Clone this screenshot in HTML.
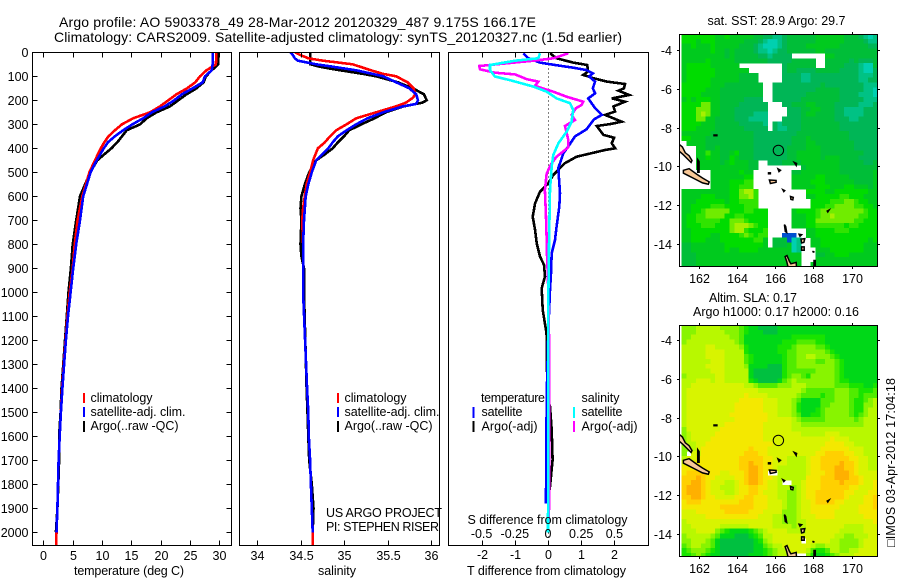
<!DOCTYPE html>
<html>
<head>
<meta charset="utf-8">
<title>Argo profile chart</title>
<style>
html,body{margin:0;padding:0;background:#fff;}
svg{display:block;}
text{font-family:"Liberation Sans",sans-serif;font-size:12.5px;fill:#000;}
.frame{fill:none;stroke:#000;stroke-width:1;shape-rendering:crispEdges;}
.tick{stroke:#000;stroke-width:1;shape-rendering:crispEdges;}
.line{fill:none;stroke-width:2.6;stroke-linejoin:miter;shape-rendering:crispEdges;}
</style>
</head>
<body>
<svg id="chart" xmlns="http://www.w3.org/2000/svg" width="900" height="580" viewBox="0 0 900 580">
<defs>
<clipPath id="clip-t"><rect x="32" y="52" width="200" height="494"/></clipPath>
<clipPath id="clip-s"><rect x="239" y="52" width="201" height="494"/></clipPath>
<clipPath id="clip-d"><rect x="448" y="52" width="201" height="494"/></clipPath>
<clipPath id="clip-m1"><rect x="679" y="34" width="199" height="233"/></clipPath>
<clipPath id="clip-m2"><rect x="679" y="325" width="199" height="232"/></clipPath>
</defs>
<rect x="0" y="0" width="900" height="580" fill="#fff"/>
<text x="59" y="27" style="font-size:14px" textLength="477">Argo profile: AO 5903378_49 28-Mar-2012 20120329_487 9.175S 166.17E</text>
<text x="54" y="42" style="font-size:14px" textLength="568">Climatology: CARS2009. Satellite-adjusted climatology: synTS_20120327.nc (1.5d earlier)</text>

<g id="g-t"></g>
<g id="g-s"></g>
<g id="g-d"></g>
<g id="g-m1"></g>
<g id="g-m2"></g>

<text x="74" y="575" textLength="110">temperature (deg C)</text>
<text x="318" y="575" textLength="38">salinity</text>
<text x="467" y="575" textLength="159">T difference from climatology</text>
<text x="467.5" y="524" textLength="160">S difference from climatology</text>

<g>
<rect x="83" y="393" width="2" height="10" fill="#f00"/>
<rect x="83" y="407" width="2" height="10" fill="#00f"/>
<rect x="83" y="421" width="2" height="11" fill="#000"/>
<text x="90.5" y="402" textLength="62">climatology</text>
<text x="90.5" y="416" textLength="95">satellite-adj. clim.</text>
<text x="90.5" y="430" textLength="88">Argo(..raw -QC)</text>
</g>
<g>
<rect x="337" y="393" width="2" height="10" fill="#f00"/>
<rect x="337" y="407" width="2" height="10" fill="#00f"/>
<rect x="337" y="421" width="2" height="11" fill="#000"/>
<text x="344.5" y="402" textLength="62">climatology</text>
<text x="344.5" y="416" textLength="95">satellite-adj. clim.</text>
<text x="344.5" y="430" textLength="88">Argo(..raw -QC)</text>
</g>
<text x="326" y="517" textLength="116">US ARGO PROJECT</text>
<text x="326" y="531" textLength="113">PI: STEPHEN RISER</text>

<g>
<text x="481" y="402" textLength="64">temperature</text>
<text x="581.5" y="402" textLength="38">salinity</text>
<rect x="472.5" y="407" width="2" height="11" fill="#00f"/>
<rect x="472.5" y="421" width="2" height="11" fill="#000"/>
<rect x="573" y="407" width="2" height="11" fill="#0ff"/>
<rect x="573" y="421" width="2" height="11" fill="#f0f"/>
<text x="481.5" y="416" textLength="41">satellite</text>
<text x="481.5" y="430.5" textLength="56">Argo(-adj)</text>
<text x="581.5" y="416" textLength="41">satellite</text>
<text x="581.5" y="430.5" textLength="56">Argo(-adj)</text>
</g>

<text x="707.5" y="25" textLength="138">sat. SST: 28.9 Argo: 29.7</text>
<text x="709" y="302" textLength="88">Altim. SLA: 0.17</text>
<text x="693" y="316" textLength="166">Argo h1000: 0.17 h2000: 0.16</text>
<text transform="translate(895,547) rotate(-90)" textLength="169">&#9633;IMOS 03-Apr-2012 17:04:18</text>
</svg>

<script>
// ---- profile axis ticks ----
const depthTicks = [0,100,200,300,400,500,600,700,800,900,1000,1100,1200,1300,1400,1500,1600,1700,1800,1900,2000];
const tempTicks = [0,5,10,15,20,25,30];
const salTicks = [34,34.5,35,35.5,36];
const tDiffTicks = [-2,-1,0,1,2];
const sDiffTicks = [-0.5,-0.25,0,0.25,0.5];
const lonTicks = [162,164,166,168,170];
const latTicks = [-4,-6,-8,-10,-12,-14];

// ---- temperature profiles ----
const tDepths = [0,50,75,100,125,150,175,200,225,250,275,300,325,350,375,400,450,500,600,700,800,900,1000,1100,1200,1300,1400,1500,1600,1700,1800,1900,2000,2055];
const tempClim = [29.5,29.4,27.8,26.7,25.9,24.5,22.7,21.3,19.9,18.2,15.3,13.4,12.2,11.1,10.4,9.8,8.8,7.85,6.65,5.85,5.35,5,4.5,4.1,3.8,3.5,3.2,3,2.8,2.6,2.5,2.4,2.25,2.2];
const tempSat = [28.85,28.85,28.7,27.55,27.15,25.45,23.6,22.3,20.7,18.5,17,15.2,13.6,12.2,11,10.3,9.1,8.05,6.8,6.25,5.6,5.1,4.65,4.2,3.85,3.55,3.25,3,2.8,2.6,2.5,2.4,2.25];
const tempArgo = [29.8,29.8,28.7,27.7,27.3,26.1,24.4,23,21.6,19.3,17.6,16.5,14.2,13.4,12.6,11.6,9.2,8,6.25,5.6,5,4.7,4.3,4,3.7,3.4,3.1,2.95,2.7,2.7,2.55,2.4,2.15];

// ---- salinity profiles ----
const sClimDepths = [0,10,25,35,50,75,90,100,125,150,175,190,210,225,250,275,300,325,350,375,400,450,500,550,600,650,700,800,1000,1400,1500,1600,1700,1800,1900,2000,2055];
const salClim = [34.435,34.49,34.59,34.76,35.1,35.31,35.45,35.6,35.73,35.8,35.82,35.79,35.71,35.6,35.37,35.14,35.03,34.91,34.84,34.78,34.7,34.645,34.61,34.57,34.55,34.53,34.52,34.53,34.53,34.576,34.59,34.595,34.61,34.62,34.63,34.64,34.64];
const sSatDepths = [0,15,25,35,50,60,75,90,100,125,150,175,200,215,225,250,275,300,325,350,375,400,450,500,550,600,700,800,1000,1400,1500,1600,1700,1800,1900,2000];
const salSat = [34.385,34.42,34.435,34.47,34.68,34.87,35.14,35.33,35.45,35.6,35.75,35.83,35.85,35.83,35.68,35.45,35.27,35.14,35.03,34.93,34.87,34.82,34.68,34.63,34.59,34.56,34.54,34.53,34.53,34.576,34.59,34.595,34.61,34.62,34.63,34.64];
const sArgoDepths = [0,50,60,70,90,100,125,150,175,200,210,225,250,275,300,325,350,375,400,425,450,500,550,600,650,700,800,850,900,1000,1400,1500,1600,1700,1800,1900,2000];
const salArgo = [34.61,34.615,34.72,34.87,35.22,35.37,35.62,35.79,35.92,35.95,35.9,35.69,35.48,35.35,35.2,35.06,35,34.93,34.87,34.78,34.68,34.6,34.55,34.51,34.5,34.51,34.5,34.51,34.54,34.54,34.57,34.58,34.59,34.6,34.63,34.65,34.64];

// ---- difference profiles (T on lower axis, S on upper axis) ----
const dTArgoDepths = [4,25,43,53,80,94,108,122,132,150,160,178,192,206,226,247,261,289,299,307,344,356,379,400,407,435,462,497,511,546,581,629,685,740,796,851,886,934,983,1073,1157,1184,1434,1476,1573,1698,1810,1851,1990];
const dTArgo = [0.06,0.26,0.76,1.18,1.21,1.06,1.37,1.77,2.32,2.29,2.12,2.45,1.92,2.32,1.97,2.02,1.72,2.22,1.87,1.47,1.67,1.99,1.92,2.02,1.72,0.86,0.51,0.26,0.16,0.01,-0.24,-0.39,-0.46,-0.39,-0.34,-0.24,-0.12,-0.09,-0.19,-0.16,-0.06,-0.04,-0.02,0.06,0.11,0.14,0.06,0.01,0];
const dTSatDepths = [4,25,43,53,64,74,88,101,122,150,171,192,233,261,279,321,351,393,421,483,587,643,726,782,837,920,990,1157,1434,1851,1879];
const dTSat = [-0.74,-0.59,-0.24,0.21,0.76,1.16,1.35,1.24,1.42,1.35,1.42,1.21,1.42,1.62,1.39,1.16,0.81,0.61,0.46,0.31,0.36,0.34,0.26,0.21,0.11,0.09,0.06,0.01,-0.04,-0.06,-0.06];
const dSArgoDepths = [4,25,35,57,71,85,92,112,122,140,164,185,206,219,233,261,282,307,365,396,435,462,504,574,685,782,810,948,1254,1351,1573,1893,2000];
const dSArgo = [0.153,0.04,-0.11,-0.517,-0.512,-0.4,-0.248,-0.16,-0.073,-0.098,0.04,0.14,0.266,0.254,0.21,0.178,0.203,0.128,0.153,0.153,0.065,0.028,-0.01,-0.023,-0.015,-0.01,-0.01,0,0.01,0.01,0.008,0.008,0];
const dSSatDepths = [4,25,35,53,74,101,118,143,164,192,212,240,289,331,379,428,476,574,782,1000,1500,2000];
const dSSat = [-0.06,-0.073,-0.248,-0.437,-0.437,-0.4,-0.274,-0.11,-0.01,0.065,0.166,0.19,0.178,0.14,0.078,0.04,0.028,0.015,0.008,0.003,0.003,0];

// ---- map grids (colour level per 0.25 degree cell, _ = no data) ----
const _ = null;
const sstLevels = [
[6,6,6,6,6,6,6,5,5,6,5,5,5,5,5,4,4,3,3,2,2,3,4,4,4,4,4,4,5,5,5,5,5,5,4,4,4,3,2,1,2],
[6,6,6,5,6,6,6,5,5,5,5,5,5,4,4,4,3,2,1,1,2,3,4,4,4,4,4,4,5,5,5,5,5,5,4,4,4,4,3,2,2],
[5,5,6,5,5,5,6,5,5,5,5,5,4,4,4,3,2,1,1,1,2,3,4,4,4,4,5,5,5,5,5,5,5,4,4,4,4,4,4,3,3],
[5,5,5,5,5,5,6,5,5,4,5,4,4,4,4,3,2,2,1,2,3,3,4,4,4,4,4,4,5,5,4,4,4,4,4,4,4,4,4,4,4],
[5,5,5,5,5,5,5,5,5,4,5,4,4,4,4,4,3,3,2,3,3,3,3,_,_,_,_,_,_,_,5,5,4,4,4,4,4,4,4,4,4],
[5,5,5,5,5,6,5,5,5,5,5,4,4,4,4,4,4,4,3,3,3,3,3,4,4,4,4,4,_,_,4,4,4,4,4,3,4,3,3,3,4],
[5,6,6,6,6,6,5,5,5,5,5,5,_,_,_,_,_,_,_,_,_,3,4,4,4,4,4,4,_,_,4,4,4,4,3,3,3,2,1,1,4],
[5,6,6,6,6,6,6,5,5,5,5,5,5,5,_,_,_,_,_,_,_,3,4,4,3,3,3,3,4,4,4,4,4,3,3,3,3,2,1,1,3],
[5,6,6,6,6,6,6,5,5,5,5,5,4,4,4,4,_,_,_,_,_,3,3,3,3,2,2,3,3,3,3,3,3,3,3,3,3,2,2,2,3],
[5,6,6,6,6,6,5,5,5,5,5,5,4,4,4,4,_,_,_,_,_,3,3,3,3,2,2,3,3,3,3,3,3,3,3,3,3,2,2,3,3],
[6,6,6,6,6,6,5,5,5,4,4,4,4,4,4,4,4,_,_,3,3,3,3,3,3,3,3,3,3,4,3,3,3,3,3,3,3,3,2,2,2],
[6,6,6,6,6,5,5,5,4,4,4,4,4,4,4,4,4,_,_,3,3,3,3,3,3,3,3,3,4,4,4,4,4,3,3,3,3,3,2,2,1],
[6,6,6,6,5,5,5,5,4,4,4,4,4,4,4,4,4,_,_,3,3,3,3,3,3,3,4,4,4,4,4,4,4,3,3,3,3,2,2,2,1],
[5,6,5,6,6,6,5,5,4,4,4,4,4,3,3,3,3,_,_,3,3,3,3,3,3,4,4,4,4,4,4,4,4,3,3,3,3,3,2,2,2],
[6,6,6,6,8,8,5,5,4,4,4,4,3,3,3,3,3,3,_,_,_,3,3,4,4,4,5,5,4,4,4,4,3,3,3,3,3,2,2,2,3],
[6,6,6,8,8,8,5,5,4,4,4,3,3,3,3,3,3,3,_,_,_,_,3,3,3,4,4,5,5,4,4,4,3,3,2,2,2,2,3,3,3],
[6,6,6,8,9,8,5,5,4,4,4,3,3,3,3,2,2,2,_,_,_,_,3,3,3,4,5,5,4,4,4,4,3,3,2,2,2,2,3,3,3],
[6,6,6,8,8,5,5,4,4,4,4,3,3,3,2,2,2,2,_,_,_,3,3,3,3,4,4,4,4,4,4,4,3,3,3,2,2,3,3,3,3],
[6,6,6,6,5,5,5,4,4,4,4,4,3,3,3,3,3,2,_,3,2,3,3,3,3,4,4,4,4,4,4,4,4,3,3,3,3,3,3,3,3],
[6,6,6,5,5,5,5,4,4,4,4,4,4,3,3,3,3,3,_,3,2,2,3,3,3,4,4,4,4,4,4,4,4,3,3,3,3,3,3,3,3],
[5,5,5,5,5,5,4,4,4,4,4,4,4,4,4,3,3,3,3,3,3,3,3,3,4,4,4,4,4,4,4,4,4,4,4,3,3,3,3,3,3],
[6,6,5,5,5,4,4,4,4,4,4,4,4,4,4,3,3,3,3,3,3,3,3,4,4,4,5,4,4,4,4,4,4,4,4,3,3,3,3,3,3],
[_,5,5,5,5,4,4,4,4,4,4,4,4,4,4,3,3,3,3,3,3,3,3,4,4,4,5,5,4,4,4,4,4,4,4,4,3,3,3,3,3],
[_,_,_,5,5,4,4,5,4,4,4,4,4,4,4,3,3,3,3,3,3,3,4,4,4,4,5,5,5,4,4,4,4,4,4,4,3,3,3,3,3],
[_,_,_,5,5,7,5,5,4,4,5,6,4,4,4,3,3,3,3,3,3,3,4,4,5,5,5,5,5,4,4,4,4,4,4,4,4,4,3,3,3],
[_,_,_,5,5,6,5,5,4,4,6,5,4,4,4,3,3,3,3,3,3,3,4,4,5,5,5,5,5,4,5,5,5,4,4,4,4,3,3,3,3],
[_,_,_,5,5,5,5,5,4,5,6,5,5,5,4,4,_,_,3,3,3,4,4,4,4,5,5,5,5,5,5,5,5,4,4,4,4,4,3,3,4],
[_,_,_,5,5,5,5,5,5,5,5,5,5,5,4,4,_,_,_,_,_,_,_,_,_,4,5,5,5,5,5,5,5,4,4,4,4,4,4,4,4],
[_,_,_,_,_,_,5,5,5,5,5,5,6,5,5,_,_,_,_,_,_,_,_,4,4,5,5,5,5,5,5,5,5,4,4,4,4,4,4,4,5],
[_,_,_,_,_,_,5,5,5,5,5,5,5,6,6,_,_,_,_,_,_,_,_,5,5,5,5,5,6,6,5,5,5,5,5,4,4,4,4,4,5],
[_,_,_,_,_,_,5,5,5,5,6,6,6,7,7,_,_,_,_,_,_,_,_,5,5,5,5,6,6,6,5,5,5,5,5,5,4,4,4,4,5],
[_,_,_,_,_,_,5,5,5,5,6,6,7,7,7,_,_,_,_,_,_,_,_,5,5,5,5,5,6,6,6,5,5,5,6,6,5,5,5,4,5],
[5,5,5,5,5,5,5,5,5,5,6,6,8,9,9,7,_,_,_,_,_,_,_,_,_,_,6,6,6,6,5,5,6,6,6,6,6,6,6,5,5],
[5,5,5,5,6,6,6,5,5,5,6,6,8,8,9,7,_,_,_,_,_,_,_,_,_,_,5,5,6,6,6,6,6,7,7,6,6,6,5,5,5],
[5,5,5,6,6,6,6,6,6,5,6,6,7,7,7,7,_,_,_,_,_,_,_,_,_,_,_,6,6,6,6,7,7,7,8,8,7,6,6,5,5],
[5,5,6,6,6,6,7,7,7,6,6,6,6,7,7,7,_,_,_,_,_,_,_,_,_,_,_,6,6,6,7,7,8,8,8,8,7,7,6,6,5],
[5,5,6,6,7,8,8,8,8,8,6,6,6,7,7,6,6,6,_,_,_,_,_,5,6,6,6,6,7,8,8,8,8,8,8,8,8,8,7,6,6],
[5,6,6,7,7,8,8,8,8,6,6,7,7,6,6,6,6,6,_,_,_,_,_,5,5,5,6,6,7,8,8,9,8,8,8,8,8,7,7,6,6],
[5,6,6,7,7,7,7,7,6,6,8,8,8,7,6,6,6,6,_,_,_,_,_,5,5,5,6,6,8,8,8,8,8,8,8,8,7,7,6,6,6],
[5,6,6,6,7,7,7,6,6,6,8,9,9,9,8,7,6,6,_,_,_,_,_,5,5,5,6,6,7,7,7,7,7,7,6,7,7,6,6,6,6],
[5,5,6,6,6,6,6,6,6,6,8,9,9,7,6,6,6,7,_,_,_,_,_,_,_,_,5,5,6,6,6,6,7,7,7,6,6,6,6,6,6],
[5,5,6,6,6,6,5,5,6,6,6,6,7,8,7,6,7,7,_,_,_,0,0,0,_,_,5,5,6,6,6,6,6,6,6,6,6,6,6,6,6],
[5,5,6,6,6,5,5,5,6,6,6,6,6,6,6,7,7,5,_,4,4,4,0,1,2,_,_,5,5,6,6,6,6,6,6,6,6,6,6,5,6],
[4,4,5,5,5,5,5,5,5,6,6,6,6,6,6,6,6,5,_,4,4,4,5,1,2,_,_,5,5,6,6,6,6,6,6,6,6,6,5,5,5],
[4,4,5,5,5,5,5,5,5,6,5,5,6,6,6,6,5,5,5,5,5,5,5,1,2,_,_,_,5,5,5,6,6,6,6,6,6,6,5,5,5],
[4,4,4,5,5,5,5,5,5,5,5,5,5,5,5,5,5,5,5,5,5,5,5,5,5,_,_,_,4,4,5,5,6,6,6,5,5,5,5,5,5],
[4,4,4,5,5,5,5,5,5,5,5,5,5,5,5,5,5,5,5,5,5,5,5,5,5,_,_,_,5,5,5,5,5,5,5,5,5,5,5,5,5],
[4,4,4,5,5,5,5,5,5,5,5,5,5,5,5,5,5,5,5,5,5,5,5,5,5,_,_,5,5,5,5,5,5,5,5,5,5,5,5,5,5]
];
const slaLevels = [
[4,4,4,5,5,5,5,5,4,4,4,4,3,2,1,1,0,0,0,0,1,1,1,1,1,1,1,1,1,1,1,1,1,1,1,1,1,1,1,1,1],
[4,4,4,5,5,5,5,5,5,4,4,4,3,2,1,1,1,0,0,0,1,1,1,1,1,1,1,1,1,1,1,1,1,1,1,1,1,1,1,1,1],
[4,4,5,5,5,5,5,5,5,5,4,4,3,1,1,1,1,1,1,1,1,1,1,2,2,2,2,2,2,2,1,1,1,1,1,1,1,1,1,1,1],
[4,5,5,5,5,5,5,5,5,5,5,4,3,1,1,1,1,1,1,1,1,2,2,2,3,3,3,3,2,2,1,1,1,1,1,1,1,1,1,1,1],
[5,5,5,5,5,6,6,5,5,5,5,5,4,2,1,1,1,1,1,1,2,2,2,3,4,4,4,4,3,3,2,1,1,1,1,1,1,1,1,1,1],
[5,5,5,5,5,6,6,6,6,5,5,5,5,2,1,1,1,1,1,1,2,2,3,3,4,4,4,4,4,4,3,2,1,1,1,1,1,1,1,1,1],
[5,5,5,5,5,6,6,6,6,5,5,5,5,3,2,1,1,1,1,1,1,2,3,3,4,4,5,5,4,4,4,3,2,1,1,1,1,1,1,1,1],
[5,5,5,5,5,5,6,6,6,5,5,5,5,3,2,1,1,1,1,1,1,2,3,3,4,4,4,4,3,3,4,4,3,2,1,1,1,1,1,1,1],
[5,5,5,5,5,6,6,6,6,5,5,5,5,4,1,1,1,1,0,0,0,2,3,3,4,4,4,4,4,4,4,4,3,2,1,1,1,1,1,1,1],
[5,5,5,5,5,5,6,6,6,5,5,5,5,5,1,0,0,0,0,0,0,2,3,3,3,3,3,3,4,4,4,4,3,2,1,1,1,1,1,1,1],
[4,5,5,5,5,5,5,6,6,5,5,5,5,5,1,0,0,0,0,0,0,2,3,4,4,3,2,4,4,4,4,4,3,2,1,1,1,1,1,1,1],
[5,5,5,6,6,6,5,6,6,5,5,5,5,5,2,1,0,0,0,0,1,3,4,5,4,4,4,4,4,4,4,4,3,2,2,1,1,1,1,1,1],
[5,5,6,6,6,6,6,6,6,6,6,6,6,5,5,4,3,3,3,3,4,4,4,5,5,5,4,4,4,4,4,4,3,3,3,2,2,2,1,1,2],
[5,6,6,6,6,6,6,6,6,6,6,6,6,6,6,6,5,5,5,5,5,5,5,5,5,4,3,3,3,3,3,3,4,4,4,3,3,2,2,2,3],
[5,6,6,6,6,6,6,6,6,6,6,6,6,7,6,6,6,6,5,5,5,5,5,5,4,3,3,3,3,2,3,3,4,4,4,3,3,2,3,3,3],
[5,6,6,6,6,6,6,6,6,6,6,6,7,7,7,7,7,6,6,6,5,5,5,4,3,1,1,1,1,3,3,3,4,4,4,3,2,2,3,4,5],
[5,6,6,6,6,6,6,6,6,6,6,7,7,7,7,7,7,6,6,6,5,5,5,4,2,1,1,1,1,3,3,4,4,4,4,3,2,2,4,4,5],
[5,6,6,6,6,6,6,6,6,6,6,7,7,7,7,7,7,6,6,6,5,5,5,4,2,1,1,1,2,3,4,4,4,4,4,3,2,2,4,5,5],
[5,6,6,6,6,6,6,6,6,6,7,7,7,7,7,7,7,7,6,6,5,5,5,4,3,1,1,2,2,3,4,4,4,4,4,3,2,3,4,5,5],
[5,6,6,6,6,6,6,6,6,6,6,7,7,7,7,7,7,7,6,6,6,6,6,5,4,3,3,3,3,3,4,4,4,4,4,4,3,4,5,5,5],
[5,6,6,6,6,6,6,6,6,7,7,7,7,7,7,7,7,6,6,6,6,6,6,5,5,4,4,4,4,4,4,4,4,4,4,4,4,4,5,5,5],
[4,6,6,6,6,6,6,6,7,7,7,7,7,7,7,7,7,6,6,6,6,6,6,5,5,5,5,5,5,5,5,5,5,5,5,5,5,5,5,5,5],
[4,5,6,6,6,6,6,7,7,7,7,7,7,7,7,7,7,6,6,6,6,6,6,6,6,5,5,5,5,5,6,6,6,5,5,5,5,5,5,5,5],
[4,5,6,6,6,6,7,7,7,7,7,7,7,7,7,7,7,6,6,6,6,6,6,6,6,6,6,6,6,6,6,7,6,6,6,5,5,5,5,5,5],
[4,5,5,6,6,7,7,7,7,7,7,7,7,7,7,7,7,7,7,6,6,6,6,6,6,6,6,6,6,6,7,7,7,7,6,6,5,5,5,5,5],
[4,4,5,6,7,7,7,7,7,7,7,7,7,7,8,7,7,7,6,6,6,6,6,6,6,6,6,6,6,7,7,7,7,7,7,6,6,6,5,5,5],
[4,_,6,6,7,7,7,7,7,7,7,7,7,8,8,8,7,7,6,6,6,6,6,6,6,6,6,6,7,7,8,8,8,8,7,7,6,6,5,5,5],
[5,6,6,7,7,7,7,7,7,7,7,7,8,8,8,8,8,7,7,6,6,6,5,5,5,5,6,7,7,8,8,8,8,8,8,7,7,6,6,5,5],
[6,6,7,7,7,7,7,7,7,7,7,7,8,8,9,8,8,7,7,6,6,6,5,5,5,5,6,7,7,8,8,8,8,9,8,8,7,6,6,5,5],
[7,7,7,8,7,7,7,7,7,7,7,7,8,8,9,9,8,7,7,6,5,5,5,5,5,5,6,7,7,8,8,8,9,9,8,8,7,6,6,5,5],
[7,8,8,8,8,7,7,7,6,6,7,7,7,8,9,9,8,7,_,_,5,5,5,5,5,5,6,7,7,7,8,8,9,9,9,8,7,6,6,6,6],
[8,8,8,9,8,7,7,6,6,6,6,7,7,8,9,9,8,7,7,6,5,5,5,5,5,5,7,7,7,8,8,8,9,9,9,8,8,7,6,6,6],
[8,8,9,9,8,7,6,6,6,5,5,6,7,8,9,9,8,7,6,6,5,_,_,5,5,6,7,7,7,8,8,8,8,9,8,8,8,7,6,6,7],
[8,9,9,9,8,7,6,6,5,5,5,6,7,7,8,8,7,7,6,6,5,5,5,4,5,6,7,7,7,8,8,8,8,8,8,7,7,6,6,6,7],
[8,9,9,9,8,7,6,6,6,5,5,6,7,7,8,8,7,6,6,6,5,5,4,4,5,6,7,7,8,8,8,8,8,8,7,7,6,6,6,7,7],
[8,8,9,9,8,7,7,6,6,6,6,7,7,8,8,7,7,7,6,6,5,5,4,4,5,6,7,7,8,8,8,8,8,8,7,6,6,6,7,7,8],
[7,8,8,8,7,7,7,7,7,7,7,7,8,8,8,7,7,7,6,6,6,5,4,4,5,6,6,7,8,8,8,8,7,7,6,6,6,6,7,7,8],
[7,7,7,7,7,7,7,7,8,8,8,8,8,8,8,7,7,7,6,6,6,5,4,4,5,6,6,7,7,7,7,7,7,6,6,6,6,7,7,7,8],
[6,6,6,7,7,7,7,7,7,8,8,8,8,8,7,7,7,6,6,6,6,4,4,4,5,6,6,7,7,7,7,7,6,6,6,6,6,7,7,7,7],
[6,6,6,6,6,7,7,7,7,7,7,7,7,7,7,7,6,6,6,5,5,4,4,4,5,6,6,6,7,7,7,7,6,6,6,6,6,6,7,7,7],
[5,6,6,6,6,6,6,6,6,6,6,6,6,6,6,6,6,6,6,5,5,4,4,4,5,5,6,6,6,6,6,6,6,6,6,6,6,6,6,6,7],
[5,5,6,6,6,6,6,6,5,5,5,5,5,5,6,6,6,6,6,5,5,5,5,4,5,5,6,6,6,6,6,6,6,6,5,5,5,5,6,6,6],
[5,5,5,6,6,6,6,4,3,2,1,1,1,1,2,3,4,5,6,6,6,6,5,5,5,5,6,6,6,6,6,6,6,5,5,5,5,5,6,6,6],
[4,5,5,5,5,5,4,3,1,1,1,0,0,0,1,2,3,5,5,6,6,6,6,6,6,6,6,6,6,6,6,6,5,5,4,4,5,5,5,6,6],
[4,4,5,5,5,4,3,1,0,0,0,0,0,0,0,1,2,4,5,6,6,6,6,6,6,_,6,6,6,6,6,5,5,4,4,4,4,5,6,6,6],
[3,4,5,5,4,4,3,1,0,0,0,0,0,0,0,1,1,3,4,5,5,6,6,6,6,6,6,5,4,4,5,5,5,4,4,4,4,5,6,6,6],
[2,3,4,4,4,3,2,1,0,0,0,0,0,0,0,1,1,2,3,4,5,5,6,6,6,6,5,3,2,2,3,5,5,4,4,5,5,6,6,6,6],
[2,2,3,4,3,2,1,1,0,0,0,0,0,0,1,1,1,2,3,4,5,5,6,6,_,_,4,2,1,1,2,3,4,5,5,5,6,6,6,6,6]
];

// ---- float position and coastlines (degrees) ----
const argoLon = 166.17;
const argoLat = -9.175;
const islandLons = [
[160.9,161.15,161.3,161.5,161.65,161.6,161.4,161.2,160.9],
[161.2,161.5,161.9,162.2,162.55,162.5,162.2,161.8,161.4,161.2],
[161.95,162.02,162.02,161.95],
[162.8,162.95,162.95,162.8],
[165.7,166.05,166.05,165.75],
[165.65,165.75,165.75,165.65],
[166.15,166.28,166.2],
[167.0,167.12,167.1],
[166.4,166.5,166.45],
[166.8,166.95,166.92,166.82],
[168.72,168.82,168.75],
[166.48,166.55,166.6,166.53],
[167.25,167.38,167.3],
[167.35,167.55,167.5,167.38],
[167.38,167.52,167.52,167.38],
[167.95,168.05,168.0],
[168.03,168.1,168.1,168.03],
[166.52,166.62,166.75,166.82,167.1,167.12,166.7,166.6]
];
const islandLats = [
[-8.8,-9.0,-9.3,-9.45,-9.7,-9.8,-9.6,-9.4,-9.15],
[-10.2,-10.12,-10.4,-10.6,-10.8,-10.92,-10.85,-10.65,-10.45,-10.35],
[-9.65,-9.75,-10.3,-10.3],
[-8.38,-8.38,-8.42,-8.42],
[-10.7,-10.72,-10.82,-10.88],
[-10.33,-10.33,-10.38,-10.38],
[-10.13,-10.2,-10.27],
[-9.8,-9.85,-9.95],
[-11.2,-11.25,-11.3],
[-11.55,-11.6,-11.72,-11.7],
[-12.3,-12.25,-12.35],
[-13.0,-13.1,-13.4,-13.35],
[-13.5,-13.52,-13.6],
[-13.75,-13.72,-13.92,-13.95],
[-14.15,-14.15,-14.32,-14.32],
[-14.38,-14.4,-14.42],
[-14.85,-14.85,-15.1,-15.1],
[-14.65,-14.6,-14.9,-15.02,-14.95,-15.3,-15.3,-14.9]
];

// ---- axis functions ----
function depthY(d){ return 52.3 + 0.24 * d; }
function tempX(t){ return 43.3 + 5.87 * t; }
function salX(s){ return 257 + 87 * (s - 34); }
function tDiffX(v){ return 548 + 33.2 * v; }
function sDiffX(v){ return 548 + 132.8 * v; }
function lonX(lon){ return 698.7 + 19.12 * (lon - 162); }
function latY1(lat){ return 50 + 19.4 * (-4 - lat); }
function latY2(lat){ return 340 + 19.4 * (-4 - lat); }

const NS = 'http://www.w3.org/2000/svg';
function mk(parent, tag, attrs, txt){
  const el = document.createElementNS(NS, tag);
  for (const k in attrs) el.setAttribute(k, attrs[k]);
  if (txt !== undefined) el.textContent = txt;
  parent.appendChild(el);
  return el;
}

function drawTick(parent, x1, y1, x2, y2){
  const el = mk(parent, 'line', {x1:x1, y1:y1, x2:x2, y2:y2, class:'tick'});
  
  
}
function drawLabel(parent, x, y, anchor, str){
  const el = mk(parent, 'text', {x:x, y:y, 'text-anchor':anchor}, str);
  
  
}
function drawFrame(parent, x1, y1, x2, y2){
  const el = mk(parent, 'rect', {x:x1, y:y1, width:x2-x1, height:y2-y1, class:'frame'});
  
  
}
function drawLine(parent, depths, values, xFn, colour, clip, name){
  const n = Math.min(depths.length, values.length);
  const pts = [];
  for (let i = 0; i < n; i++) pts.push(xFn(values[i]).toFixed(1) + ',' + depthY(depths[i]).toFixed(1));
  const el = mk(parent, 'polyline', {points:pts.join(' '), stroke:colour, class:'line', 'clip-path':'url(#' + clip + ')'});
  
  
}

// ---- temperature panel ----
const gT = document.getElementById('g-t');
drawLine(gT, tDepths, tempArgo, tempX, '#000', 'clip-t', 'temperature-argo-line');
drawLine(gT, tDepths, tempClim, tempX, '#f00', 'clip-t', 'temperature-climatology-line');
drawLine(gT, tDepths, tempSat, tempX, '#00f', 'clip-t', 'temperature-satellite-line');
drawFrame(gT, 32.5, 52.5, 231.5, 545.5);
depthTicks.forEach(function(d){
  const y = Math.round(depthY(d)) + 0.5;
  drawTick(gT, 32.5, y, 37.5, y);
  drawTick(gT, 226.5, y, 231.5, y);
  drawLabel(gT, 28.5, Math.round(depthY(d)) + 5, 'end', String(d));
});
tempTicks.forEach(function(t){
  const x = Math.round(tempX(t)) + 0.5;
  drawTick(gT, x, 52.5, x, 57.5);
  drawTick(gT, x, 540.5, x, 545.5);
  drawLabel(gT, x, 560, 'middle', String(t));
});

// ---- salinity panel ----
const gS = document.getElementById('g-s');
drawLine(gS, sArgoDepths, salArgo, salX, '#000', 'clip-s', 'salinity-argo-line');
drawLine(gS, sClimDepths, salClim, salX, '#f00', 'clip-s', 'salinity-climatology-line');
drawLine(gS, sSatDepths, salSat, salX, '#00f', 'clip-s', 'salinity-satellite-line');
drawFrame(gS, 239.5, 52.5, 439.5, 545.5);
salTicks.forEach(function(s){
  const x = Math.round(salX(s)) + 0.5;
  drawTick(gS, x, 52.5, x, 57.5);
  drawTick(gS, x, 540.5, x, 545.5);
  drawLabel(gS, x, 560, 'middle', String(s));
});

// ---- difference panel ----
const gD = document.getElementById('g-d');
const zero = mk(gD, 'line', {x1:548.5, y1:52.5, x2:548.5, y2:545.5, stroke:'#000', 'stroke-width':1, 'stroke-dasharray':'1 3', 'shape-rendering':'crispEdges'});


drawLine(gD, dTArgoDepths, dTArgo, tDiffX, '#000', 'clip-d', 't-difference-argo-line');
drawLine(gD, dTSatDepths, dTSat, tDiffX, '#00f', 'clip-d', 't-difference-satellite-line');
drawLine(gD, dSArgoDepths, dSArgo, sDiffX, '#f0f', 'clip-d', 's-difference-argo-line');
drawLine(gD, dSSatDepths, dSSat, sDiffX, '#0ff', 'clip-d', 's-difference-satellite-line');
drawFrame(gD, 448.5, 52.5, 648.5, 545.5);
tDiffTicks.forEach(function(v){
  const x = Math.round(tDiffX(v)) + 0.5;
  drawTick(gD, x, 52.5, x, 57.5);
  drawTick(gD, x, 540.5, x, 545.5);
  drawLabel(gD, x, 559, 'middle', String(v));
});
sDiffTicks.forEach(function(v){
  drawLabel(gD, sDiffX(v), 538, 'middle', String(v));
});

// ---- maps ----
const sstColours = ['#0050d0','#00d0b0','#00c284','#00b656','#00be38','#00ca1e','#00dc00','#30e400','#70ec00','#a8f000'];
const slaColours = ['#00c040','#00d818','#18e400','#50ec00','#88f400','#b8f800','#d8f400','#f4e800','#ffd000','#ffb000'];
function levelColour(colours, v){
  const c = Math.max(0, Math.min(colours.length - 1, Math.round(v)));
  return colours[c];
}
function drawMap(gId, levels, colours, latY, top, bottom, clip, cellName){
  const g = document.getElementById(gId);
  const cells = mk(g, 'g', {'clip-path':'url(#' + clip + ')', 'shape-rendering':'crispEdges'});
  
  
  const lon0 = 161.11;
  const lat0 = -4 + (latY(-4) - top) / 19.4;
  levels.forEach(function(row, j){
    row.forEach(function(v, i){
      if (v === null) return;
      const x1 = lonX(lon0 + 0.25 * i), x2 = lonX(lon0 + 0.25 * (i + 1));
      const y1 = latY(lat0 - 0.25 * j), y2 = latY(lat0 - 0.25 * (j + 1));
      const r = mk(cells, 'rect', {x:x1.toFixed(2), y:y1.toFixed(2), width:(x2-x1+0.3).toFixed(2), height:(y2-y1+0.3).toFixed(2), fill:levelColour(colours, v)});
      
      
    });
  });
  const land = mk(g, 'g', {'clip-path':'url(#' + clip + ')'});
  
  
  islandLons.forEach(function(lons, k){
    const pts = lons.map(function(lon, n){ return lonX(lon).toFixed(1) + ',' + latY(islandLats[k][n]).toFixed(1); }).join(' ');
    const p = mk(land, 'polygon', {points:pts, fill:'#f8c898', stroke:'#000', 'stroke-width':1.5});
    
    
  });
  const mark = mk(g, 'circle', {cx:lonX(argoLon).toFixed(1), cy:latY(argoLat).toFixed(1), r:5.2, fill:'none', stroke:'#000', 'stroke-width':1});
  
  
  drawFrame(g, 679.5, top + 0.5, 877.5, bottom + 0.5);
  lonTicks.forEach(function(lon){
    const x = Math.round(lonX(lon)) + 0.5;
    drawTick(g, x, top - 2, x, top + 0.5);
    drawTick(g, x, bottom + 0.5, x, bottom + 3);
    drawLabel(g, x, bottom + 17, 'middle', String(lon));
  });
  latTicks.forEach(function(lat){
    const y = Math.round(latY(lat)) + 0.5;
    drawTick(g, 677, y, 679.5, y);
    drawTick(g, 877.5, y, 880, y);
    drawLabel(g, 672, y + 4.5, 'end', String(lat));
  });
}
drawMap('g-m1', sstLevels, sstColours, latY1, 34, 266, 'clip-m1', 'sst-cell');
drawMap('g-m2', slaLevels, slaColours, latY2, 325, 556, 'clip-m2', 'sla-cell');
</script>
</body>
</html>
